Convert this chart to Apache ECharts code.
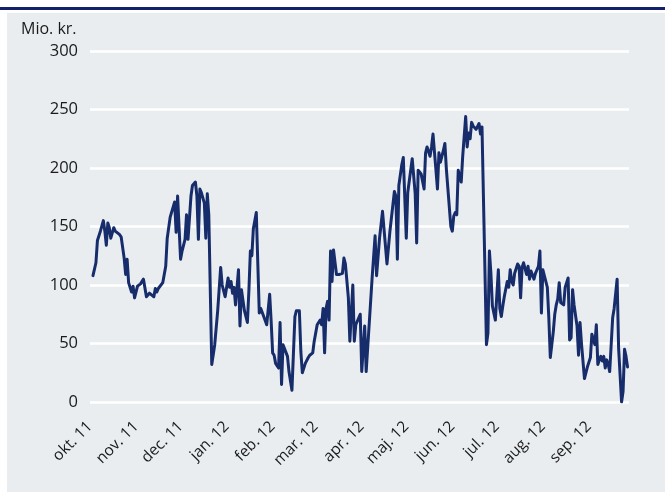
<!DOCTYPE html>
<html>
<head>
<meta charset="utf-8">
<script src="https://cdn.jsdelivr.net/npm/echarts@6/dist/echarts.min.js"></script>
<style>
html,body{margin:0;padding:0;background:#ffffff;}
#chart{width:665px;height:494px;}
</style>
</head>
<body>
<div id="chart"></div>
<script>
const monthLabels = ['okt. 11','nov. 11','dec. 11','jan. 12','feb. 12','mar. 12','apr. 12','maj. 12','jun. 12','jul. 12','aug. 12','sep. 12'];
const yTicks = [0, 50, 100, 150, 200, 250, 300];
const unitLabel = 'Mio. kr.';

const dates = [
'2011-10-03','2011-10-04','2011-10-05','2011-10-06','2011-10-08','2011-10-10','2011-10-11','2011-10-12','2011-10-13','2011-10-14','2011-10-15','2011-10-17','2011-10-18','2011-10-21','2011-10-22','2011-10-23','2011-10-24','2011-10-25','2011-10-26','2011-10-27','2011-10-28','2011-10-29','2011-10-30','2011-10-31',
'2011-11-02','2011-11-04','2011-11-06','2011-11-08','2011-11-10','2011-11-13','2011-11-14','2011-11-15','2011-11-16','2011-11-19','2011-11-21','2011-11-22','2011-11-24','2011-11-27','2011-11-28','2011-11-29',
'2011-12-01','2011-12-02','2011-12-04','2011-12-05','2011-12-06','2011-12-08','2011-12-09','2011-12-11','2011-12-12','2011-12-13','2011-12-14','2011-12-15','2011-12-17','2011-12-18','2011-12-19','2011-12-20','2011-12-22','2011-12-24','2011-12-26','2011-12-28','2011-12-29','2011-12-31',
'2012-01-02','2012-01-03','2012-01-04','2012-01-05','2012-01-06','2012-01-07','2012-01-09','2012-01-10','2012-01-11','2012-01-12','2012-01-13','2012-01-15','2012-01-16','2012-01-17','2012-01-18','2012-01-19','2012-01-21','2012-01-22','2012-01-23','2012-01-24','2012-01-26','2012-01-28','2012-01-30','2012-01-31',
'2012-02-01','2012-02-02','2012-02-03','2012-02-05','2012-02-06','2012-02-07','2012-02-08','2012-02-09','2012-02-11','2012-02-12','2012-02-14','2012-02-16','2012-02-17','2012-02-19','2012-02-20','2012-02-21','2012-02-23','2012-02-25','2012-02-26','2012-02-28','2012-02-29',
'2012-03-02','2012-03-04','2012-03-05','2012-03-06','2012-03-07','2012-03-08','2012-03-09','2012-03-10','2012-03-11','2012-03-12','2012-03-13','2012-03-14','2012-03-15','2012-03-17','2012-03-19','2012-03-20','2012-03-21','2012-03-23','2012-03-24','2012-03-26','2012-03-27','2012-03-28','2012-03-30','2012-03-31',
'2012-04-01','2012-04-03','2012-04-04','2012-04-08','2012-04-10','2012-04-11','2012-04-13','2012-04-15','2012-04-18','2012-04-20','2012-04-23','2012-04-24','2012-04-25','2012-04-26','2012-04-28','2012-04-29',
'2012-05-01','2012-05-02','2012-05-03','2012-05-05','2012-05-07','2012-05-08','2012-05-09','2012-05-11','2012-05-13','2012-05-14','2012-05-15','2012-05-17','2012-05-18','2012-05-19','2012-05-21','2012-05-22','2012-05-23','2012-05-24','2012-05-26','2012-05-27','2012-05-28','2012-05-29','2012-05-31',
'2012-06-01','2012-06-02','2012-06-03','2012-06-04','2012-06-05','2012-06-06','2012-06-07','2012-06-08','2012-06-10','2012-06-11','2012-06-12','2012-06-13','2012-06-14','2012-06-15','2012-06-17','2012-06-19','2012-06-20','2012-06-21','2012-06-24','2012-06-25','2012-06-26','2012-06-27','2012-06-28','2012-06-29','2012-06-30',
'2012-07-02','2012-07-03','2012-07-04','2012-07-05','2012-07-06','2012-07-08','2012-07-09','2012-07-10','2012-07-11','2012-07-12','2012-07-13','2012-07-15','2012-07-16','2012-07-17','2012-07-18','2012-07-19','2012-07-21','2012-07-22','2012-07-23','2012-07-24','2012-07-26','2012-07-27','2012-07-29','2012-07-30','2012-07-31',
'2012-08-01','2012-08-02','2012-08-04','2012-08-05','2012-08-06','2012-08-08','2012-08-09','2012-08-10','2012-08-11','2012-08-12','2012-08-13','2012-08-14','2012-08-15','2012-08-16','2012-08-18','2012-08-19','2012-08-20','2012-08-21','2012-08-22','2012-08-24','2012-08-25','2012-08-26','2012-08-27','2012-08-29','2012-08-31',
'2012-09-02','2012-09-03','2012-09-05','2012-09-06','2012-09-07','2012-09-08','2012-09-09','2012-09-10','2012-09-11','2012-09-12','2012-09-13','2012-09-14','2012-09-15','2012-09-16','2012-09-17','2012-09-18','2012-09-20','2012-09-21','2012-09-23','2012-09-24','2012-09-25','2012-09-26','2012-09-27'
];
const values = [
108,109,119,138,146,155,146,134,153,149,140,149,146,143,141,142,123,109,122,102,98,94,99,89,
99,101,105,90,93,90,97,94,97,102,116,140,158,171,145,176,
122,129,139,160,139,176,185,188,176,139,182,179,170,140,178,160,32,49,78,115,100,90,
106,98,103,93,98,83,113,65,96,95,78,68,95,129,125,148,162,119,76,80,73,66,92,69,
42,40,33,29,68,15,49,50,39,26,10,73,78,78,43,25,33,38,40,42,52,
66,70,66,80,42,80,86,70,129,103,130,130,109,109,110,123,118,89,52,100,52,66,72,75,
26,65,26,106,142,108,140,163,118,146,180,176,122,185,203,209,
140,179,180,208,178,136,198,195,182,213,218,210,218,229,198,182,213,205,215,221,199,198,150,
146,159,162,160,198,199,188,210,244,218,230,225,239,236,233,238,229,235,49,59,129,110,82,76,70,
113,80,73,82,90,103,98,113,103,100,110,118,116,89,115,119,109,116,105,112,105,110,116,129,76,
113,112,98,72,38,60,75,83,88,102,85,85,83,98,106,53,55,96,83,65,40,68,50,20,30,
38,58,49,66,32,36,39,35,39,29,36,32,26,25,72,80,105,46,0,9,45,39,30
];

const axisStart = '2011-10-01';
const axisEnd = '2012-09-28';

const chart = echarts.init(document.getElementById('chart'), null, {renderer: 'canvas'});
const seriesData = dates.map((d, i) => [d, values[i]]);

const option = {
  animation: false,
  backgroundColor: '#ffffff',
  graphic: [
    {type: 'rect', z: -100, shape: {x: 7, y: 13, width: 658, height: 479}, style: {fill: '#E9EDF0'}},
    {type: 'rect', z: -90, shape: {x: 0, y: 7, width: 665, height: 3}, style: {fill: '#13206B'}},
    {type: 'text', left: 21, top: 21, style: {text: unitLabel, font: '16px "Open Sans", sans-serif', fill: '#1a1a1a'}}
  ],
  grid: {left: 90, right: 36, top: 51, bottom: 92, containLabel: false},
  xAxis: {
    type: 'time',
    min: axisStart,
    max: axisEnd,
    splitNumber: 12,
    axisLine: {show: false},
    axisTick: {show: false},
    splitLine: {show: false},
    axisLabel: {
      rotate: 45,
      margin: 22,
      color: '#1a1a1a',
      fontSize: 15.5,
      fontFamily: '"Open Sans", sans-serif',
      hideOverlap: false,
      showMaxLabel: false,
      formatter: function (val) {
        const dt = new Date(val);
        const idx = (dt.getFullYear() - 2011) * 12 + dt.getMonth() - 9;
        return monthLabels[idx] || '';
      }
    }
  },
  yAxis: {
    type: 'value',
    min: yTicks[0],
    max: yTicks[yTicks.length - 1],
    interval: 50,
    axisLine: {show: false},
    axisTick: {show: false},
    splitLine: {show: true, lineStyle: {color: '#ffffff', width: 2.5}},
    axisLabel: {
      margin: 12,
      color: '#1a1a1a',
      fontSize: 16.5,
      fontFamily: '"Open Sans", sans-serif'
    }
  },
  series: [{
    type: 'line',
    data: seriesData,
    showSymbol: false,
    symbol: 'none',
    smooth: false,
    lineStyle: {color: '#172C6A', width: 3, join: 'round', cap: 'round'},
    z: 5
  }]
};
chart.setOption(option);
</script>
</body>
</html>
